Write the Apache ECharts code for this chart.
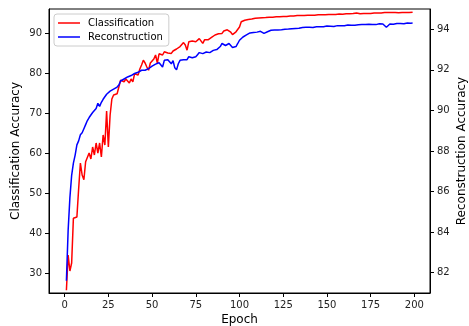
<!DOCTYPE html>
<html>
<head>
<meta charset="utf-8">
<script src="https://cdn.jsdelivr.net/npm/echarts@6/dist/echarts.min.js"></script>
<style>
html,body{margin:0;padding:0;background:#fff;}
#chart{width:469px;height:326px;}
</style>
</head>
<body>
<div id="chart"></div>
<script>
const xTicks = [0, 25, 50, 75, 100, 125, 150, 175, 200];
const leftTicks = [30, 40, 50, 60, 70, 80, 90];
const rightTicks = [82, 84, 86, 88, 90, 92, 94];

const classification = [
  25.7, 34.5, 30.5, 32.5, 43.7, 43.4, 44.0, 51.0, 57.5, 54.5,
  53.3, 57.8, 57.4, 60.0, 58.5, 61.5, 59.5, 62.5, 60.0, 62.5,
  59.0, 64.5, 62.0, 70.5, 61.5, 69.5, 73.5, 74.5, 75.0, 74.8,
  74.3, 78.2, 78.0, 77.8, 78.5, 78.7, 77.5, 78.5, 77.8, 79.8,
  79.5, 79.5, 81.0, 82.0, 83.2, 82.5, 81.5, 80.7, 82.5, 82.0,
  83.5, 84.5, 82.5, 84.8, 85.0, 84.5, 85.3, 84.8, 85.0, 85.0,
  84.9, 85.5, 85.8, 86.0, 86.5, 86.6, 86.2, 87.6, 87.0, 85.7,
  87.8, 88.2, 88.0, 87.7, 87.8, 88.0, 88.6, 88.2, 87.4, 88.3,
  88.5, 88.3, 88.7, 88.9, 88.8, 89.5, 89.2, 89.8, 90.3, 89.9,
  90.5, 90.2, 90.8, 90.7, 90.2, 89.6, 89.8, 90.3, 90.5, 91.5,
  92.8, 93.1, 93.2, 93.3, 93.4, 93.5, 93.5, 93.6, 93.7, 93.7,
  93.75, 93.7, 93.8, 93.9, 93.85, 93.9, 93.95, 94.0, 93.95, 94.0,
  94.05, 94.1, 94.05, 94.1, 94.15, 94.2, 94.15, 94.2, 94.25, 94.3,
  94.25, 94.3, 94.35, 94.3, 94.35, 94.4, 94.35, 94.4, 94.45, 94.4,
  94.45, 94.5, 94.45, 94.5, 94.55, 94.5, 94.55, 94.6, 94.55, 94.6,
  94.65, 94.6, 94.65, 94.7, 94.65, 94.7, 94.75, 94.7, 94.7, 94.75,
  94.8, 94.75, 94.8, 94.8, 94.85, 94.95, 95.0, 94.85, 94.8, 94.85,
  94.9, 94.85, 94.9, 94.95, 94.9, 94.95, 95.0, 94.95, 95.0, 95.05,
  95.0, 95.05, 95.1, 95.2, 95.1, 95.05, 95.1, 95.05, 95.1, 95.1,
  95.05, 95.1, 95.15, 95.1, 95.1, 95.15, 95.1, 95.15, 95.2
];

const reconstruction = [
  81.6, 84.1, 85.7, 86.8, 87.4, 87.8, 88.3, 88.5, 88.8, 88.9,
  89.1, 89.3, 89.5, 89.65, 89.6, 89.9, 90.0, 90.1, 90.35, 90.2,
  90.4, 90.55, 90.6, 90.8, 90.85, 90.95, 91.0, 91.05, 91.05, 91.15,
  91.25, 91.45, 91.5, 91.55, 91.6, 91.65, 91.6, 91.72, 91.75, 91.82,
  91.9, 91.88, 91.95, 91.98, 92.0, 91.98, 92.05, 92.06, 92.1, 92.18,
  92.22, 92.28, 92.3, 92.35, 92.4, 92.14, 92.47, 92.45, 92.5, 92.4,
  92.3, 92.45, 92.1, 92.0, 92.3, 92.47, 92.4, 92.5, 92.55, 92.5,
  92.65, 92.7, 92.6, 92.55, 92.65, 92.75, 92.85, 92.88, 92.8, 92.85,
  92.88, 92.9, 92.85, 92.93, 92.96, 92.95, 93.0, 93.05, 93.15, 93.3,
  93.25, 93.2, 93.2, 93.3, 93.25, 93.1, 93.05, 93.15, 93.3, 93.46,
  93.55, 93.62, 93.68, 93.72, 93.75, 93.82, 93.8, 93.84, 93.85, 93.86,
  93.88, 93.9, 93.85, 93.8, 93.75, 93.88, 93.92, 93.95, 93.93, 93.96,
  93.98, 93.97, 94.0, 93.98, 94.02, 94.0, 94.03, 94.01, 94.04, 94.03,
  94.05, 94.04, 94.08, 94.05, 94.07, 94.09, 94.06, 94.1, 94.08, 94.1,
  94.12, 94.09, 94.11, 94.13, 94.1, 94.12, 94.14, 94.12, 94.15, 94.16,
  94.13, 94.15, 94.17, 94.14, 94.16, 94.18, 94.15, 94.17, 94.2, 94.17,
  94.19, 94.21, 94.18, 94.2, 94.24, 94.2, 94.19, 94.22, 94.2, 94.23,
  94.21, 94.24, 94.22, 94.25, 94.22, 94.24, 94.26, 94.23, 94.25, 94.27,
  94.24, 94.26, 94.2, 94.1, 94.18, 94.26, 94.28, 94.25, 94.27, 94.29,
  94.26, 94.28, 94.3, 94.27, 94.29, 94.31, 94.28, 94.3, 94.31
];

const FONT = 'DejaVu Sans';
const chart = echarts.init(document.getElementById('chart'), null, {renderer: 'canvas'});

const tickStyle = {show: true, inside: false, length: 4, lineStyle: {color: '#000', width: 1}};
const lineAxis = {show: true, onZero: false, lineStyle: {color: '#000', width: 1}};
const nameStyle = {fontFamily: FONT, fontSize: 12, color: '#000'};

chart.setOption({
  animation: false,
  backgroundColor: '#fff',
  grid: {left: 49, right: 39, top: 9, bottom: 33, containLabel: false, outerBoundsMode: 'none',
         show: true, borderColor: '#000', borderWidth: 1, backgroundColor: 'transparent'},
  legend: {
    orient: 'vertical',
    left: 54, top: 14,
    padding: [4, 6, 4, 4],
    itemGap: 4,
    itemWidth: 22, itemHeight: 11,
    icon: 'path://M0,0H22V1.5H0Z',
    symbolKeepAspect: true,
    backgroundColor: 'rgba(255,255,255,0.8)',
    borderColor: '#cccccc', borderWidth: 1, borderRadius: 3,
    textStyle: {fontFamily: FONT, fontSize: 10, color: '#000', padding: [0, 0, 0, 3]},
    data: ['Classification', 'Reconstruction']
  },
  xAxis: {
    type: 'value', min: -8.95, max: 208.95,
    name: 'Epoch', nameLocation: 'middle', nameGap: 21, nameMoveOverlap: false, nameTextStyle: nameStyle,
    axisLine: lineAxis, splitLine: {show: false},
    axisTick: Object.assign({}, tickStyle, {customValues: xTicks}),
    axisLabel: {customValues: xTicks, fontFamily: FONT, fontSize: 10, color: '#222', margin: 7}
  },
  yAxis: [
    {
      type: 'value', position: 'left', min: 25, max: 96,
      name: 'Classification Accuracy', nameLocation: 'middle', nameGap: 27, nameMoveOverlap: false,
      nameRotate: 90, nameTextStyle: nameStyle,
      axisLine: lineAxis, splitLine: {show: false},
      axisTick: Object.assign({}, tickStyle, {customValues: leftTicks}),
      axisLabel: {customValues: leftTicks, fontFamily: FONT, fontSize: 10, color: '#222', margin: 7}
    },
    {
      type: 'value', position: 'right', min: 81, max: 95,
      name: 'Reconstruction Accuracy', nameLocation: 'middle', nameGap: 26, nameMoveOverlap: false,
      nameRotate: 90, nameTextStyle: nameStyle,
      axisLine: lineAxis, splitLine: {show: false},
      axisTick: Object.assign({}, tickStyle, {customValues: rightTicks}),
      axisLabel: {customValues: rightTicks, fontFamily: FONT, fontSize: 10, color: '#222', margin: 7}
    }
  ],
  series: [
    {
      name: 'Classification', type: 'line', yAxisIndex: 0,
      data: classification.map((v, i) => [i + 1, v]),
      symbol: 'none', showSymbol: false,
      lineStyle: {color: '#ff0000', width: 1.5}, itemStyle: {color: '#ff0000'}
    },
    {
      name: 'Reconstruction', type: 'line', yAxisIndex: 1,
      data: reconstruction.map((v, i) => [i + 1, v]),
      symbol: 'none', showSymbol: false,
      lineStyle: {color: '#0000ff', width: 1.5}, itemStyle: {color: '#0000ff'}
    }
  ]
});
</script>
</body>
</html>
